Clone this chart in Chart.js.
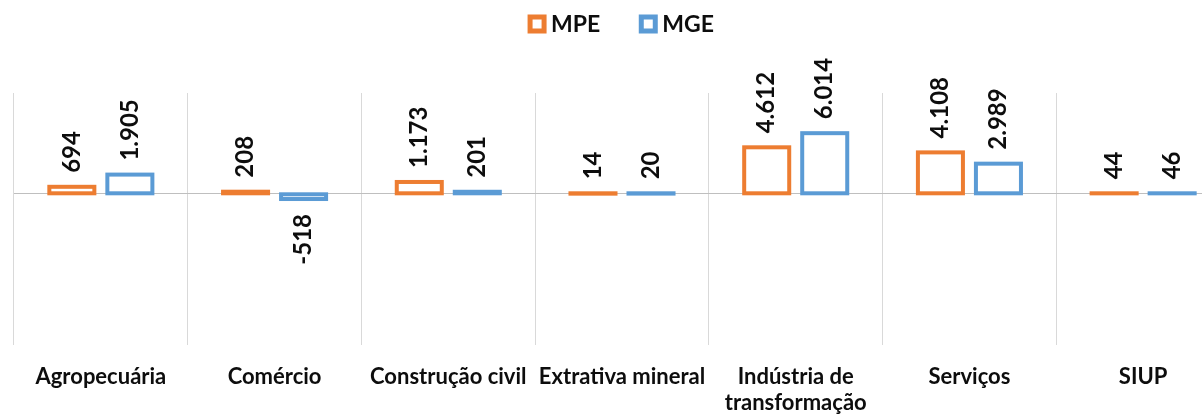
<!DOCTYPE html>
<html>
<head>
<meta charset="utf-8">
<script src="https://cdn.jsdelivr.net/npm/chart.js@4/dist/chart.umd.min.js"></script>
<style>
  html, body { margin: 0; padding: 0; background: #fff; overflow: hidden; }
</style>
</head>
<body>
<canvas id="chart" width="1244" height="416"></canvas>
<script>
const categories = ['Agropecuária', 'Comércio', 'Construção civil', 'Extrativa mineral',
  ['Indústria de', 'transformação'], 'Serviços', 'SIUP'];
const mpeValues = [694, 208, 1173, 14, 4612, 4108, 44];
const mgeValues = [1905, -518, 201, 20, 6014, 2989, 46];
const seriesNames = ['MPE', 'MGE'];
const seriesColors = ['#ED7D31', '#5B9BD5'];

const FONT = 'Lato, "Open Sans", sans-serif';

// 1.905 style (pt-BR thousands)
const fmt = (v) => (v < 0 ? '-' : '') + String(Math.abs(v)).replace(/\B(?=(\d{3})+(?!\d))/g, '.');

// hollow bars: stroke centred on the bar edge, like the office chart
const hollowBars = {
  id: 'hollowBars',
  afterDatasetsDraw(chart) {
    const ctx = chart.ctx;
    ctx.save();
    chart.data.datasets.forEach((ds, i) => {
      const meta = chart.getDatasetMeta(i);
      meta.data.forEach((el, j) => {
        const { x, y, base, width } = el.getProps(['x', 'y', 'base', 'width'], true);
        const top = Math.min(y, base);
        const bottom = Math.max(y, base);
        ctx.strokeStyle = ds.edgeColor;
        ctx.lineWidth = 4;
        ctx.strokeRect(x - width / 2, top, width, bottom - top);

        const v = ds.data[j];
        ctx.save();
        ctx.font = 'bold 24px ' + FONT;
        ctx.fillStyle = '#0d0d0d';
        ctx.textBaseline = 'middle';
        if (v >= 0) {
          ctx.translate(x, top - 14);
          ctx.rotate(-Math.PI / 2);
          ctx.textAlign = 'left';
        } else {
          ctx.translate(x, bottom + 15);
          ctx.rotate(-Math.PI / 2);
          ctx.textAlign = 'right';
        }
        ctx.fillText(fmt(v), 0, 0);
        ctx.restore();
      });
    });
    ctx.restore();
  }
};

// legend with hollow squares, centred over the plot
const hollowLegend = {
  id: 'hollowLegend',
  afterDraw(chart) {
    const ctx = chart.ctx;
    const area = chart.chartArea;
    ctx.save();
    ctx.font = 'bold 23px ' + FONT;
    ctx.textBaseline = 'middle';
    const box = 14, gapText = 7, gapItem = 41;
    const items = chart.data.datasets.map(ds => ({ label: ds.label, color: ds.edgeColor, w: ctx.measureText(ds.label).width }));
    let total = 0;
    items.forEach((it, i) => { total += box + gapText + it.w + (i < items.length - 1 ? gapItem : 0); });
    let x = (area.left + area.right) / 2 - total / 2;
    const cy = 24;
    items.forEach(it => {
      ctx.fillStyle = '#fff';
      ctx.fillRect(x, cy - box / 2, box, box);
      ctx.strokeStyle = it.color;
      ctx.lineWidth = 5;
      ctx.strokeRect(x, cy - box / 2, box, box);
      ctx.fillStyle = '#0d0d0d';
      ctx.textAlign = 'left';
      ctx.fillText(it.label, x + box + gapText, cy + 1);
      x += box + gapText + it.w + gapItem;
    });
    ctx.restore();
  }
};

const ctx = document.getElementById('chart').getContext('2d');
new Chart(ctx, {
  type: 'bar',
  data: {
    labels: categories,
    datasets: [
      { label: seriesNames[0], data: mpeValues, backgroundColor: '#ffffff', borderWidth: 0, edgeColor: seriesColors[0] },
      { label: seriesNames[1], data: mgeValues, backgroundColor: '#ffffff', borderWidth: 0, edgeColor: seriesColors[1] },
    ],
  },
  options: {
    responsive: false,
    animation: false,
    devicePixelRatio: 1,
    categoryPercentage: 0.668,
    barPercentage: 0.776,
    layout: { padding: { top: 93, left: 14, right: 14, bottom: 0 } },
    plugins: {
      legend: { display: false },
      tooltip: { enabled: false },
    },
    scales: {
      x: {
        grid: { color: '#d9d9d9', drawTicks: false, offset: true },
        border: { display: false },
        ticks: {
          padding: 19,
          color: '#0d0d0d',
          font: { family: FONT, size: 22, weight: 'bold', lineHeight: 1.18 },
          maxRotation: 0,
          autoSkip: false,
        },
        afterFit: (scale) => { scale.height = 71; },
      },
      y: {
        min: -15000,
        max: 10000,
        ticks: { display: false, stepSize: 5000 },
        border: { display: false },
        grid: {
          drawTicks: false,
          color: (c) => (c.tick && c.tick.value === 0 ? '#bfbfbf' : 'rgba(0,0,0,0)'),
        },
      },
    },
  },
  plugins: [hollowBars, hollowLegend],
});
</script>
</body>
</html>
